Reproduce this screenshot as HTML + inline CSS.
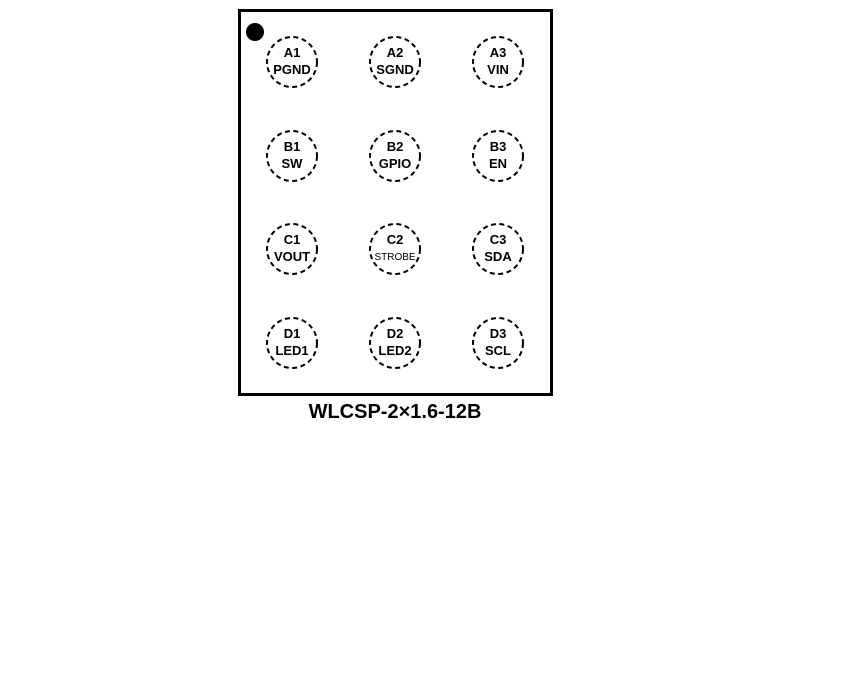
<!DOCTYPE html>
<html><head><style>body{margin:0;background:#fff}</style></head><body>
<svg width="844" height="680" xmlns="http://www.w3.org/2000/svg" font-family="Liberation Sans, Arial, sans-serif" font-weight="bold">
<rect x="0" y="0" width="844" height="680" fill="#fff"/>
<rect x="239.5" y="10.5" width="312" height="384" fill="none" stroke="#000" stroke-width="3"/>
<circle cx="255" cy="32" r="9" fill="#000"/>
<g fill="none" stroke="#000" stroke-width="2" stroke-dasharray="5,3.5">
<circle cx="292" cy="62" r="25"/><circle cx="395" cy="62" r="25"/><circle cx="498" cy="62" r="25"/>
<circle cx="292" cy="156" r="25"/><circle cx="395" cy="156" r="25"/><circle cx="498" cy="156" r="25"/>
<circle cx="292" cy="249" r="25"/><circle cx="395" cy="249" r="25"/><circle cx="498" cy="249" r="25"/>
<circle cx="292" cy="343" r="25"/><circle cx="395" cy="343" r="25"/><circle cx="498" cy="343" r="25"/>
</g>
<g font-size="13" text-anchor="middle" fill="#000">
<text x="292" y="57">A1</text><text x="292" y="74">PGND</text>
<text x="395" y="57">A2</text><text x="395" y="74">SGND</text>
<text x="498" y="57">A3</text><text x="498" y="74">VIN</text>
<text x="292" y="151">B1</text><text x="292" y="168">SW</text>
<text x="395" y="151">B2</text><text x="395" y="168">GPIO</text>
<text x="498" y="151">B3</text><text x="498" y="168">EN</text>
<text x="292" y="244">C1</text><text x="292" y="261">VOUT</text>
<text x="395" y="244">C2</text><text x="395" y="260" font-size="10" font-weight="normal">STROBE</text>
<text x="498" y="244">C3</text><text x="498" y="261">SDA</text>
<text x="292" y="338">D1</text><text x="292" y="355">LED1</text>
<text x="395" y="338">D2</text><text x="395" y="355">LED2</text>
<text x="498" y="338">D3</text><text x="498" y="355">SCL</text>
</g>
<text x="395" y="418" font-size="20" text-anchor="middle" fill="#000">WLCSP-2×1.6-12B</text>
</svg>
</body></html>
